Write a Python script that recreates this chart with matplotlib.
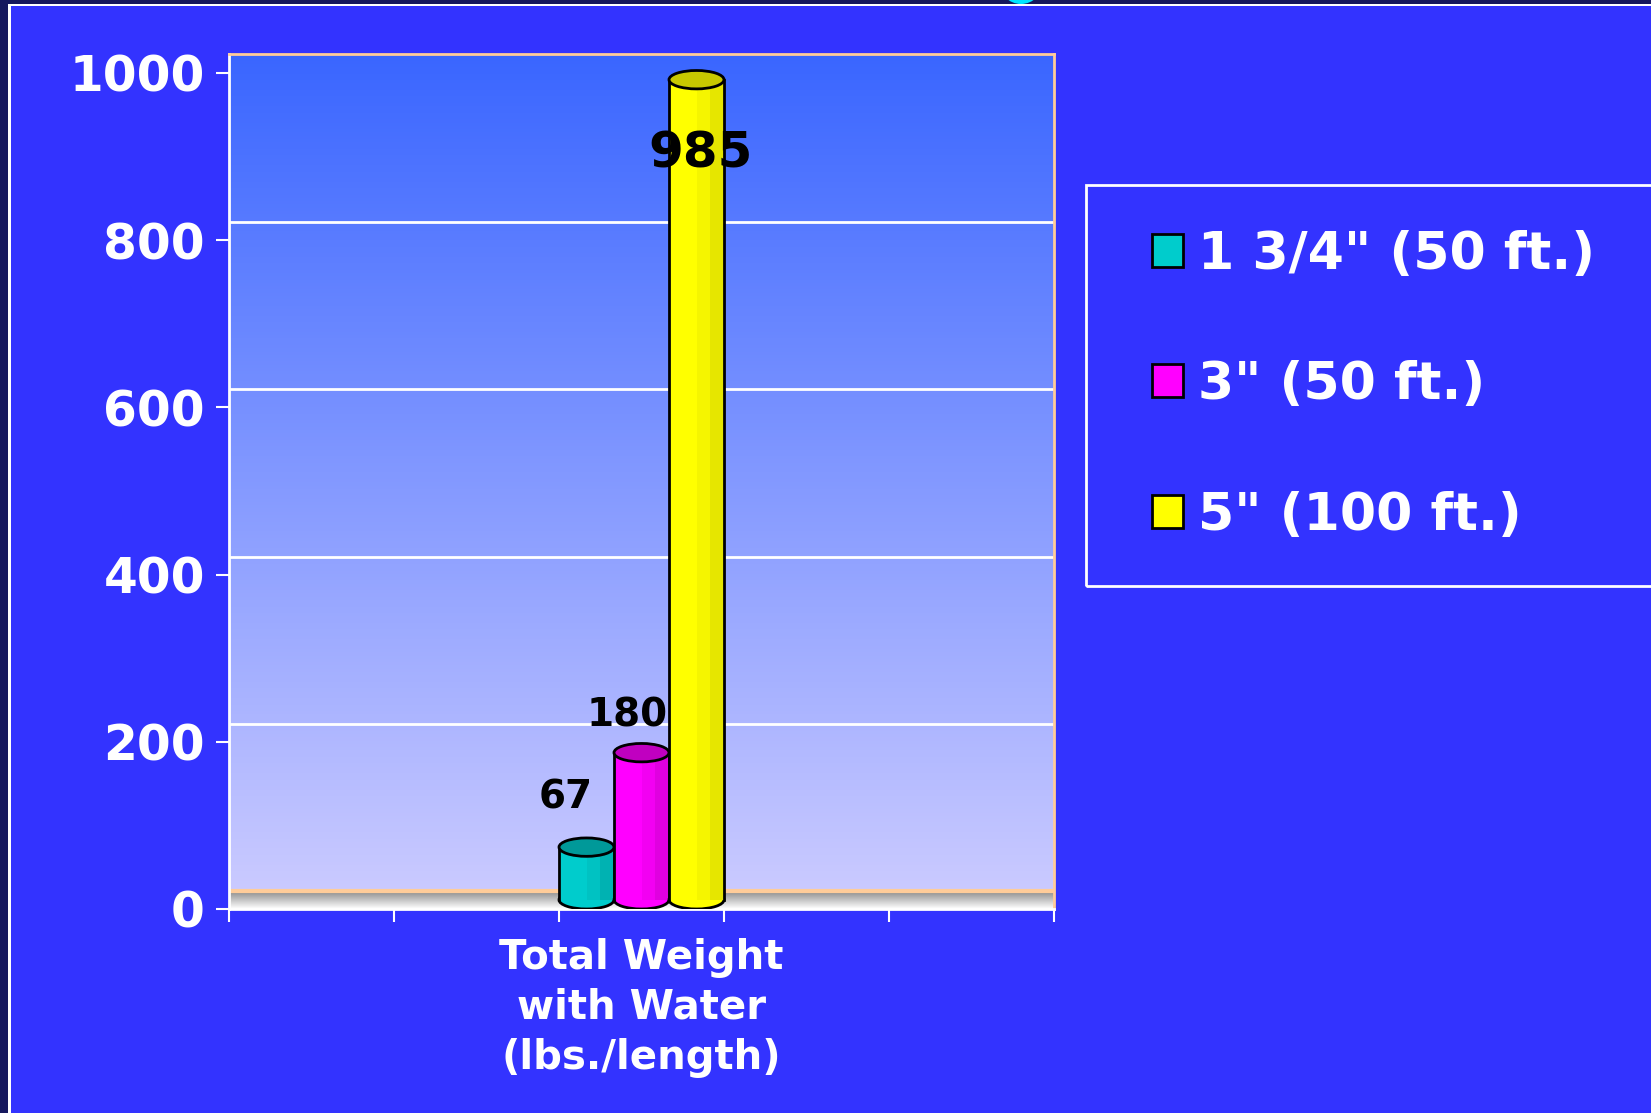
import numpy as np
import matplotlib.pyplot as plt
from matplotlib.patches import Rectangle, Ellipse, Patch

plt.rcParams['font.family'] = ['DejaVu Sans']
plt.rcParams['font.weight'] = 'bold'

category = "Total Weight\nwith Water\n(lbs./length)"
series = ['1 3/4" (50 ft.)', '3" (50 ft.)', '5" (100 ft.)']
values = [67, 180, 985]
yticks = [0, 200, 400, 600, 800, 1000]

body = ['#00CCCC', '#FF00FF', '#FFFF00']
mid = ['#00C2C2', '#F200F2', '#F5F500']
dark = ['#00B2B2', '#E000E0', '#E6E600']
caps = ['#009999', '#C000C0', '#C8C800']

W, H = 1651, 1113
fig = plt.figure(figsize=(W / 100, H / 100), dpi=100)
fig.patch.set_facecolor('#3333FF')


def px(x, y):
    return x / W, 1 - y / H


# frame decoration of the slide
fig.patches.append(Rectangle((0, 1 - 4 / H), 1, 4 / H, transform=fig.transFigure,
                             fc='#16185E', ec='none', zorder=0))
fig.patches.append(Rectangle((0, 1 - 6 / H), 1, 2 / H, transform=fig.transFigure,
                             fc='white', ec='none', zorder=0))
fig.patches.append(Rectangle((0, 0), 8 / W, 1, transform=fig.transFigure,
                             fc='#16185E', ec='none', zorder=0))
fig.patches.append(Rectangle((8 / W, 0), 3 / W, 1 - 4 / H, transform=fig.transFigure,
                             fc='white', ec='none', zorder=0))
fig.patches.append(Ellipse(px(1021, -18), 44 / W, 44 / H, transform=fig.transFigure,
                           fc='#00E5FF', ec='none', zorder=1))

left, right, top, bottom = 229, 1054, 54, 909
ax = fig.add_axes([left / W, 1 - bottom / H, (right - left) / W, (bottom - top) / H])
scale = (909 - 73) / 1000.0          # px per unit
ymax = (bottom - top) / scale
depth = 18 / scale                   # 3D wall offset in data units

ax.set_xlim(0, 5)
ax.set_ylim(0, ymax)
ax.set_facecolor('none')

# back wall gradient
grad = np.linspace(0, 1, 256)[:, None]
c0 = np.array([0x3A, 0x66, 0xFF]) / 255
c1 = np.array([0xCA, 0xCA, 0xFF]) / 255
img = c0[None, None, :] * (1 - grad[..., None]) + c1[None, None, :] * grad[..., None]
ax.imshow(img, extent=(0, 5, depth, ymax), aspect='auto', origin='upper', zorder=0)

# floor
fl = np.linspace(0, 1, 32)[:, None]
g = 0.55 + 0.45 * fl
floor = np.dstack([g, g, g])
ax.imshow(floor, extent=(0, 5, 0, depth), aspect='auto', origin='upper', zorder=0)
ax.axhline(depth, color='#FFCC99', lw=3, zorder=1)

for v in yticks[1:-1]:
    ax.axhline(v + depth, color='white', lw=2, zorder=1)

# cylinders
w = 1 / 3
ry = 11
for i, (v, b, m, d, c) in enumerate(zip(values, body, mid, dark, caps)):
    x0 = 2 + i * w
    cx = x0 + w / 2
    h = v + 7
    ax.add_patch(Ellipse((cx, ry), w, 2 * ry, fc=b, ec='black', lw=2, zorder=3 + i))
    ax.add_patch(Rectangle((x0, ry), w * 0.5, h - ry, fc=b, ec='none', zorder=3 + i))
    ax.add_patch(Rectangle((x0 + w * 0.5, ry), w * 0.25, h - ry, fc=m, ec='none', zorder=3 + i))
    ax.add_patch(Rectangle((x0 + w * 0.75, ry), w * 0.25, h - ry, fc=d, ec='none', zorder=3 + i))
    ax.plot([x0, x0], [ry, h], color='black', lw=2, zorder=3 + i)
    ax.plot([x0 + w, x0 + w], [ry, h], color='black', lw=2, zorder=3 + i)
    ax.add_patch(Ellipse((cx, h), w, 2 * ry, fc=c, ec='black', lw=2, zorder=3 + i))

label_offsets = [(-21, 55), (-14, 43), (4, -68)]
label_sizes = [28, 28, 36]
for i, v in enumerate(values):
    ax.annotate(str(v), xy=(2 + i * w + w / 2, v), xytext=label_offsets[i],
                textcoords='offset pixels', ha='center', va='center',
                fontsize=label_sizes[i], fontweight='bold', color='black', zorder=10)

# axes styling
for s in ['left', 'bottom']:
    ax.spines[s].set_color('white')
    ax.spines[s].set_linewidth(2)
for s in ['top', 'right']:
    ax.spines[s].set_color('#FFCC99')
    ax.spines[s].set_linewidth(2)

ax.set_yticks(yticks)
ax.set_yticklabels([str(t) for t in yticks])
ax.set_xticks(range(6))
ax.set_xticklabels([])
ax.tick_params(axis='both', direction='out', length=9.4, width=1.5, color='white')
ax.tick_params(axis='y', labelcolor='white', labelsize=35, pad=8)
for lab in ax.get_yticklabels():
    lab.set_fontweight('bold')

ax.annotate(category, xy=(2.5, 0), xycoords=('data', 'axes fraction'),
            xytext=(0, -29), textcoords='offset pixels', ha='center', va='top',
            fontsize=29, fontweight='bold', color='white', linespacing=1.32)

# legend
fig.patches.append(Rectangle(px(1086, 586), 700 / W, 401 / H, transform=fig.transFigure,
                             fill=False, ec='white', lw=2, zorder=2))
handles = [Patch(fc=c, ec='black', lw=2) for c in body]
ax.legend(handles, series, loc='upper left', bbox_to_anchor=px(1152, 229.5),
          bbox_transform=fig.transFigure, frameon=False,
          prop={'size': 37.5, 'weight': 'bold'}, labelcolor='white',
          handlelength=0.6, handleheight=0.6, handletextpad=0.29,
          labelspacing=1.55, borderpad=0, borderaxespad=0)

fig.savefig('out.png', dpi=100, facecolor=fig.get_facecolor())
